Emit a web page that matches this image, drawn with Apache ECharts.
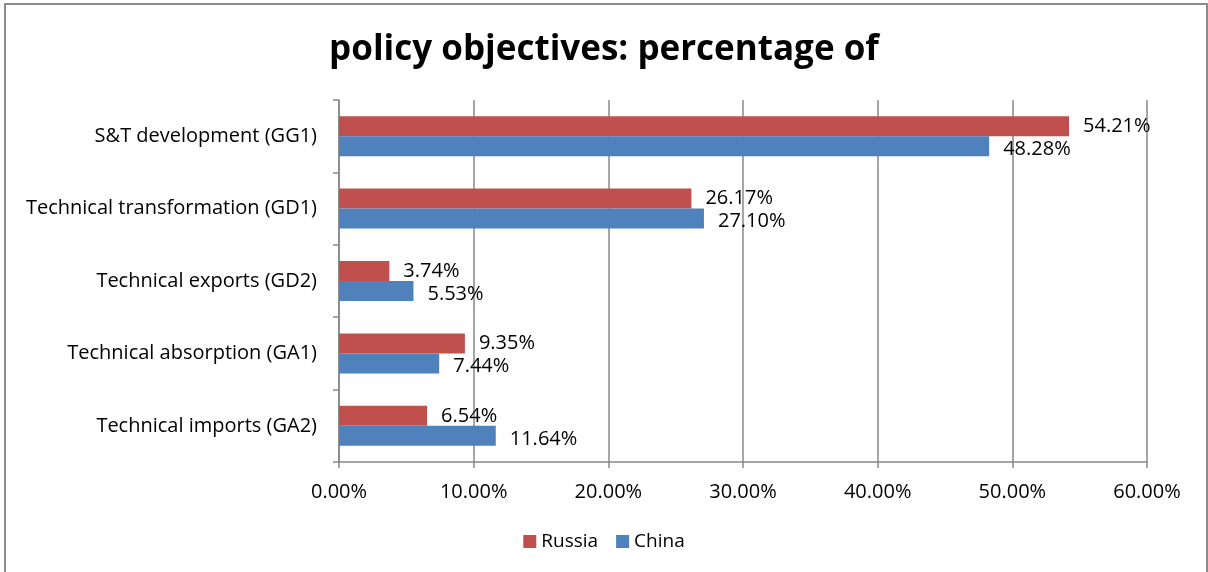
<!DOCTYPE html>
<html><head><meta charset="utf-8">
<script src="https://cdn.jsdelivr.net/npm/echarts@6/dist/echarts.min.js"></script>
<style>html,body{margin:0;padding:0;background:#fff}#c{width:1208px;height:572px}</style>
</head><body><div id="c"></div>
<script>
const categories = ["S&T development (GG1)","Technical transformation (GD1)","Technical exports (GD2)","Technical absorption (GA1)","Technical imports (GA2)"];
const russia = [54.21, 26.17, 3.74, 9.35, 6.54];
const china = [48.28, 27.10, 5.53, 7.44, 11.64];
const xTicks = [0, 10, 20, 30, 40, 50, 60];
const FONT = "'Open Sans', 'DejaVu Sans', sans-serif";
const chart = echarts.init(document.getElementById('c'));
const lbl = {show:true, position:'right', distance:14, fontSize:20, color:'#000', fontFamily:FONT, formatter:p=>p.value.toFixed(2)+'%'};
chart.setOption({
  animation:false,
  title:{text:'policy objectives: percentage of', left:'center', top:28,
    textStyle:{fontSize:35, fontWeight:'bold', color:'#000', fontFamily:FONT}},
  graphic:[{type:'rect', shape:{x:5,y:4,width:1202,height:600}, style:{fill:'none', stroke:'#8c8c8c', lineWidth:2}, silent:true}],
  legend:{data:['Russia','China'], bottom:16, left:'center', itemWidth:13, itemHeight:13, itemGap:18,
    icon:'rect', textStyle:{fontSize:19, fontFamily:FONT, color:'#000'}},
  grid:{left:339, right:61, top:100, bottom:110, containLabel:false},
  xAxis:{type:'value', min:xTicks[0], max:xTicks[xTicks.length-1], interval:10,
    axisLine:{show:true, lineStyle:{color:'#888', width:1.5}},
    axisTick:{show:true, length:6, lineStyle:{color:'#888', width:1.5}},
    splitLine:{show:true, lineStyle:{color:'#888', width:1.5}},
    axisLabel:{fontSize:20, color:'#000', fontFamily:FONT, margin:20, formatter:v=>v.toFixed(2)+'%'}},
  yAxis:{type:'category', data:categories, inverse:true,
    axisLine:{show:true, lineStyle:{color:'#888', width:1.5}},
    axisTick:{show:true, length:6, lineStyle:{color:'#888', width:1.5}},
    axisLabel:{fontSize:20, color:'#000', fontFamily:FONT, margin:22}},
  series:[
    {name:'Russia', type:'bar', data:russia, barWidth:20, barGap:'0%', itemStyle:{color:'#C0504D'}, label:lbl},
    {name:'China', type:'bar', data:china, barWidth:20, barGap:'0%', itemStyle:{color:'#4F81BD'}, label:Object.assign({}, lbl, {offset:[0,3]})}
  ]
});
</script></body></html>
